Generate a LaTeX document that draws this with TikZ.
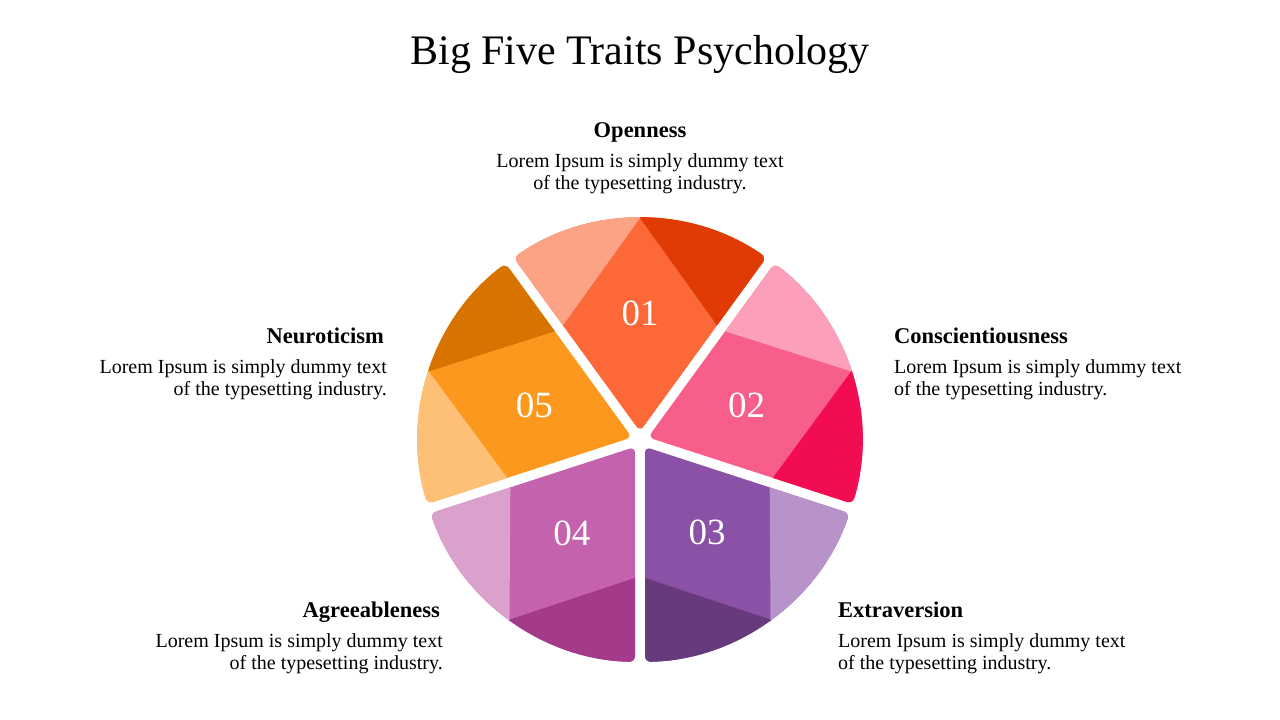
\documentclass[tikz,border=0pt]{standalone}
\usepackage{fontspec}
\setmainfont{Liberation Serif}
\usetikzlibrary{positioning, calc}
\definecolor{opLight}{HTML}{FCA385}
\definecolor{opMid}{HTML}{FD6838}
\definecolor{opDark}{HTML}{E03B04}
\definecolor{coLight}{HTML}{FB9FBA}
\definecolor{coMid}{HTML}{F75F8A}
\definecolor{coDark}{HTML}{F20D52}
\definecolor{exLight}{HTML}{B893CA}
\definecolor{exMid}{HTML}{8A51A6}
\definecolor{exDark}{HTML}{673B7B}
\definecolor{agLight}{HTML}{DBA1CD}
\definecolor{agMid}{HTML}{C462AE}
\definecolor{agDark}{HTML}{A43A8A}
\definecolor{neLight}{HTML}{FEBF77}
\definecolor{neMid}{HTML}{FD981E}
\definecolor{neDark}{HTML}{D77400}
\tikzset{
title/.style={font=\fontsize{42}{46}\selectfont, inner sep=0pt},
head/.style={font=\fontsize{22.5}{24}\selectfont\bfseries, inner sep=0pt},
body/.style={font=\fontsize{20}{21.5}\selectfont, inner sep=0pt},
num/.style={text=white, font=\fontsize{37}{37}\selectfont, inner sep=0pt},
wedge/.style={rounded corners=6},
}

\begin{document}
\begin{tikzpicture}[x=1pt, y=1pt]
	\useasboundingbox (0,0) rectangle (1280,720);
	\coordinate (c) at (640,280);
	\node[title, anchor=base] (title) at (640,655) {Big Five Traits Psychology};

	% five wedges: ccw piece / middle / cw piece
	\foreach \ang/\ccwcol/\midcol/\cwcol/\num/\rad in {
		90/opLight/opMid/opDark/01/127,
		18/coLight/coMid/coDark/02/112,
		-54/exLight/exMid/exDark/03/114,
		-126/agDark/agMid/agLight/04/116,
		162/neLight/neMid/neDark/05/111}{
	\begin{scope}[shift={(c)}, rotate=\ang]
		\coordinate (a) at (8.5,0);
		\coordinate (sl) at (114.58,77.07);
		\coordinate (sr) at (114.58,-77.07);
		\coordinate (el) at (182.49,126.41);
		\coordinate (m) at (222,0);
		\begin{scope}
			\clip[wedge] (a) -- (el) arc[start angle=34.71, end angle=-34.71, radius=222] -- cycle;
			\fill[\midcol] (-10,-300) rectangle (300,300);
			\fill[\ccwcol] (sl) -- (m) -- (300,0) -- (300,300) -- (55.8,157.97) -- cycle;
			\fill[\cwcol] (sr) -- (m) -- (300,0) -- (300,-300) -- (55.8,-157.97) -- cycle;
		\end{scope}
		\node[num] (n\num) at (\rad,0) {\num};
	\end{scope}
	}

	% labels (body base = last line)
	\node[head, anchor=base] (h1) at (640,582) {Openness};
	\node[body, anchor=base, align=center] (d1) at ($(h1.base)+(0,-51.5)$)
		{Lorem Ipsum is simply dummy text\\of the typesetting industry.};
	\node[head, anchor=base west] (h2) at (894,376) {Conscientiousness};
	\node[body, anchor=base west, align=left] (d2) at ($(h2.base west)+(0,-51.5)$)
		{Lorem Ipsum is simply dummy text\\of the typesetting industry.};
	\node[head, anchor=base west] (h3) at (838,102) {Extraversion};
	\node[body, anchor=base west, align=left] (d3) at ($(h3.base west)+(0,-51.5)$)
		{Lorem Ipsum is simply dummy text\\of the typesetting industry.};
	\node[head, anchor=base east] (h4) at (440,102) {Agreeableness};
	\node[body, anchor=base east, align=right] (d4) at ($(h4.base east)+(3,-51.5)$)
		{Lorem Ipsum is simply dummy text\\of the typesetting industry.};
	\node[head, anchor=base east] (h5) at (384,376) {Neuroticism};
	\node[body, anchor=base east, align=right] (d5) at ($(h5.base east)+(3,-51.5)$)
		{Lorem Ipsum is simply dummy text\\of the typesetting industry.};
\end{tikzpicture}
\end{document}
